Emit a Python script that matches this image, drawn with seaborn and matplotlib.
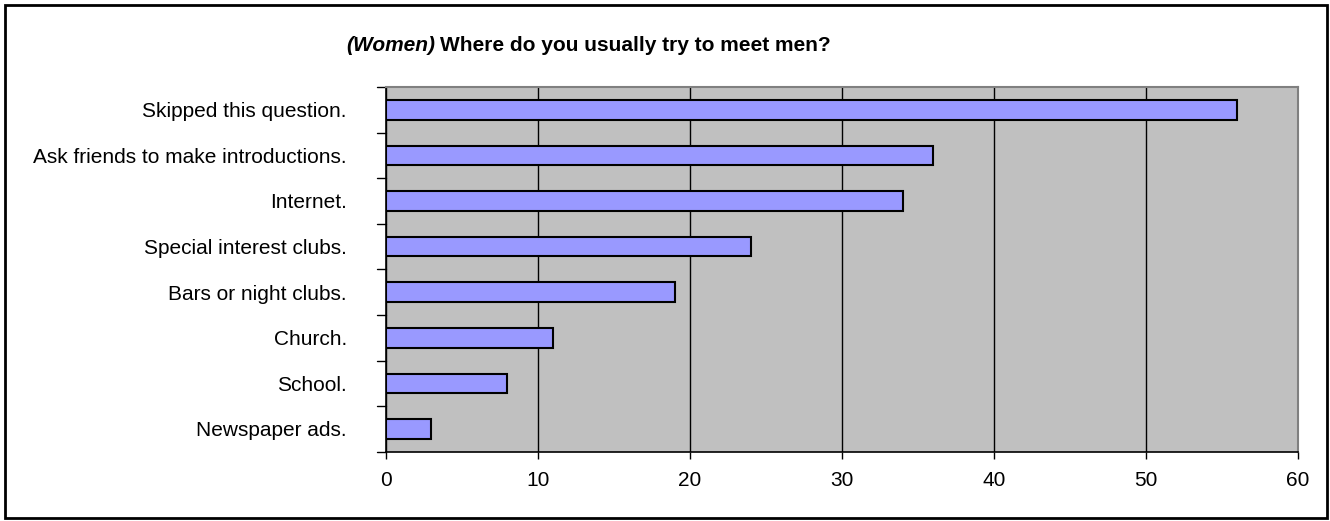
import numpy as np
import pandas as pd
import matplotlib
matplotlib.use("Agg")
import matplotlib.pyplot as plt
import matplotlib.patches as patches
import seaborn as sns

# Data
answers = ["Skipped this question.", "Ask friends to make introductions.", "Internet.",
           "Special interest clubs.", "Bars or night clubs.", "Church.", "School.",
           "Newspaper ads."]
counts = [56, 36, 34, 24, 19, 11, 8, 3]
x_ticks = [0, 10, 20, 30, 40, 50, 60]

df = pd.DataFrame({"answer": answers, "count": counts})

sns.set_theme(style="white")
plt.rcParams['font.family'] = ['Liberation Sans', 'DejaVu Sans']
plt.rcParams['text.color'] = 'black'

fig = plt.figure(figsize=(13.3, 5.21), dpi=100)
ax = fig.add_axes([0.290, 0.133, 0.686, 0.700])

sns.barplot(data=df, y="answer", x="count", orient="h", color="#9999FF",
            saturation=1, width=0.43, edgecolor="black", linewidth=1.5, ax=ax, zorder=3)

# Decoration
ax.set_facecolor("#C0C0C0")
ax.set_xlim(0, 60)
ax.set_xticks(x_ticks)
ax.set_xticklabels([str(t) for t in x_ticks], fontsize=15, color="black")
ax.tick_params(axis="x", length=5, width=1, color="black", direction="out", pad=9, bottom=True)
ax.grid(axis="x", color="black", linewidth=1, zorder=0)
ax.set_axisbelow(True)
ax.set_xlabel("")
ax.set_ylabel("")

# y ticks sit between categories, labels at centers
ax.set_ylim(len(answers) - 0.5, -0.5)
ax.set_yticks(np.arange(len(answers)))
ax.set_yticklabels(answers, fontsize=15, color="black")
ax.tick_params(axis="y", length=0, pad=28)
for yb in np.arange(-0.5, len(answers), 1.0):
    ax.plot([-0.009, 0], [yb, yb], transform=ax.get_yaxis_transform(),
            color="black", linewidth=1, clip_on=False)

for side in ["left", "bottom"]:
    ax.spines[side].set_color("black")
    ax.spines[side].set_linewidth(1.2)
for side in ["top", "right"]:
    ax.spines[side].set_color("#808080")
    ax.spines[side].set_linewidth(1.5)

# Title: italic bold prefix + bold remainder
t1 = fig.text(0.260, 0.912, "(Women)", fontsize=15, fontweight="bold", fontstyle="italic",
              ha="left", va="center", color="black")
fig.canvas.draw()
bb = t1.get_window_extent()
fig.text(bb.x1 / fig.bbox.width + 0.004, 0.912, "Where do you usually try to meet men?",
         fontsize=15, fontweight="bold", ha="left", va="center", color="black")

# Outer border
fig.patches.append(patches.Rectangle((5 / 1330, 3 / 521), 1322 / 1330, 513 / 521,
                                     transform=fig.transFigure, fill=False,
                                     edgecolor="black", linewidth=2))

fig.savefig("out.png", dpi=100)
